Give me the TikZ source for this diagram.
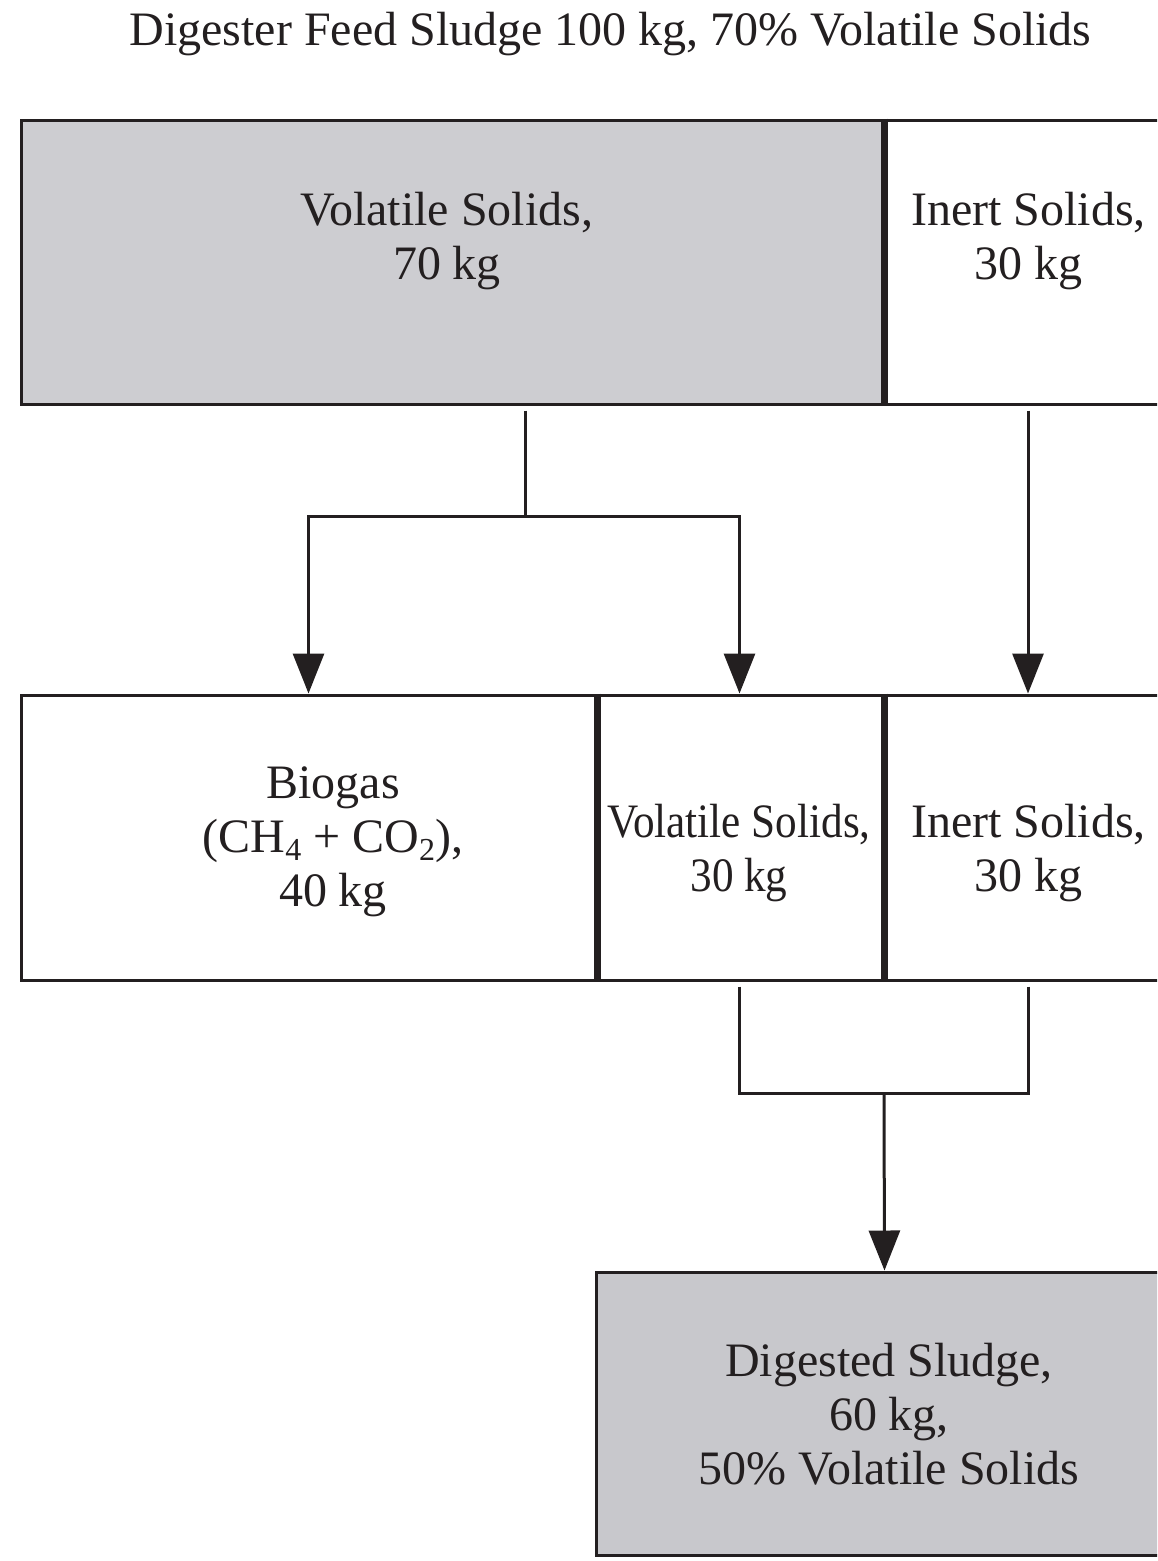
\documentclass[tikz,border=0pt]{standalone}
\usepackage{fontspec}
\setmainfont{Liberation Serif}
\usetikzlibrary{arrows.meta}
\definecolor{boxgrey}{RGB}{205,205,209}
\definecolor{boxgreyb}{RGB}{200,200,204}
\definecolor{ink}{RGB}{35,31,32}
\newcommand{\chemsub}[1]{\raisebox{-8pt}{\fontsize{32}{32}\selectfont #1}}
\tikzset{
  box/.style={draw=ink, line width=3pt, rectangle, inner sep=0pt},
  divider/.style={draw=ink, line width=7pt},
  lbl/.style={inner sep=0pt, align=center, text=ink, font=\fontsize{48}{54}\selectfont},
  conn/.style={draw=ink, line width=3pt},
  arr/.style={conn, -{Triangle[length=40pt,width=31pt]}}
}
\begin{document}
\begin{tikzpicture}[x=1pt,y=-1pt]
\useasboundingbox (0,0) rectangle (1157,1561);
\clip (0,0) rectangle (1157,1561);
% title
\node[lbl, anchor=base] (title) at (610.5,45) {Digester Feed Sludge 100 kg, 70\% Volatile Solids};
% top row
\node[box, fill=boxgrey, minimum width=862pt, minimum height=284pt] (vs70) at (452,262) {};
\node[box, fill=white, minimum width=290pt, minimum height=284pt] (is30a) at (1028,262) {};
\draw[divider] (vs70.north east) -- (vs70.south east);
\node[lbl] (vs70t) at (447,241) {Volatile Solids,\\70 kg};
\node[lbl] (is30at) at (1028.5,241) {Inert Solids,\\30 kg};
% middle row
\node[box, fill=white, minimum width=575pt, minimum height=285pt] (biogas) at (308.5,837.5) {};
\node[box, fill=white, minimum width=287pt, minimum height=285pt] (vs30) at (739.5,837.5) {};
\node[box, fill=white, minimum width=290pt, minimum height=285pt] (is30b) at (1028,837.5) {};
\draw[divider] (biogas.north east) -- (biogas.south east);
\draw[divider] (vs30.north east) -- (vs30.south east);
\node[lbl] (biogast) at (333,842) {Biogas\\(CH\chemsub{4} + CO\chemsub{2}),\\40 kg};
\node[lbl, xscale=0.9, transform shape] (vs30t) at (739,853) {Volatile Solids,\\30 kg};
\node[lbl] (is30bt) at (1028.5,853) {Inert Solids,\\30 kg};
% bottom
\node[box, fill=boxgreyb, minimum width=577pt, minimum height=283pt] (dig) at (884.5,1413.5) {};
\node[lbl] (digt) at (889,1414) {Digested Sludge,\\60 kg,\\50\% Volatile Solids};
% connectors
\coordinate (j1) at (525,516);
\coordinate (j2) at (884,1093);
\draw[conn] ([yshift=-5pt]vs70.south -| j1) -- (j1);
\draw[arr] (j1) -| (biogas.north);
\draw[arr] (j1) -| (vs30.north);
\draw[arr] ([yshift=-5pt]is30a.south) -- (is30b.north);
\draw[conn] ([yshift=-5pt]vs30.south) |- (j2);
\draw[conn] ([yshift=-5pt]is30b.south) |- (j2);
\draw[arr] (j2) -- (dig.north);
\end{tikzpicture}
\end{document}
